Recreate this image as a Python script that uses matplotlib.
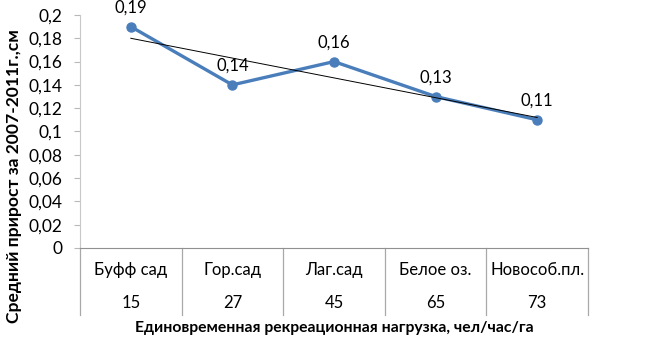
import numpy as np
import matplotlib.pyplot as plt
from matplotlib.transforms import blended_transform_factory

# === Data ===
sites = ['Буфф сад', 'Гор.сад', 'Лаг.сад', 'Белое оз.', 'Новособ.пл.']
loads = [15, 27, 45, 65, 73]
growth = [0.19, 0.14, 0.16, 0.13, 0.11]
yticks = [0, 0.02, 0.04, 0.06, 0.08, 0.1, 0.12, 0.14, 0.16, 0.18, 0.2]

plt.rcParams['font.family'] = ['Lato', 'DejaVu Sans']

fig = plt.figure(figsize=(6.6, 3.42), dpi=100)
ax = fig.add_axes([0.1212, 0.2749, 0.7697, 0.6813])

x = np.arange(1, len(sites) + 1)
ax.plot(x, growth, color='#4a7ebb', lw=2.4, marker='o', ms=6.5, zorder=3)

# linear trend
k, b = np.polyfit(x, growth, 1)
ax.plot(x, k * x + b, color='black', lw=0.7, zorder=4)

for xi, v in zip(x, growth):
    ax.annotate(f'{v:.2f}'.replace('.', ','), (xi, v), xytext=(0, 8),
                textcoords='offset points', ha='center', va='bottom', fontsize=12)

ax.set_xlim(0.5, len(sites) + 0.5)
ax.set_ylim(0, 0.2)
ax.set_yticks(yticks)
ax.set_yticklabels([('%g' % t).replace('.', ',') for t in yticks], fontsize=12.5)
ax.set_xticks([])
ax.tick_params(axis='y', length=4.5, width=0.8, color='#b8b8b8', pad=8)
for s in ['top', 'right']:
    ax.spines[s].set_visible(False)
ax.spines['left'].set_color('#c8c8c8')
ax.spines['left'].set_linewidth(0.8)
ax.spines['bottom'].set_color('#909090')

# === Category table under the axis ===
tr = blended_transform_factory(ax.transData, ax.transAxes)
for i in range(len(sites) + 1):
    ax.plot([i + 0.5, i + 0.5], [0, -0.288], transform=tr, color='#a8a8a8',
            lw=0.9, clip_on=False)
for xi, name, ld in zip(x, sites, loads):
    ax.text(xi, -0.094, name, transform=tr, ha='center', va='center', fontsize=12)
    ax.text(xi, -0.236, str(ld), transform=tr, ha='center', va='center', fontsize=12)

fig.text(0.506, 0.041, 'Единовременная рекреационная нагрузка, чел/час/га',
         ha='center', va='center', fontsize=11.3, fontweight='bold')
fig.text(0.021, 0.485, 'Средний прирост за 2007-2011г.,см', rotation=90,
         ha='center', va='center', fontsize=12.6, fontweight='bold')

fig.savefig('out.png', dpi=100)
